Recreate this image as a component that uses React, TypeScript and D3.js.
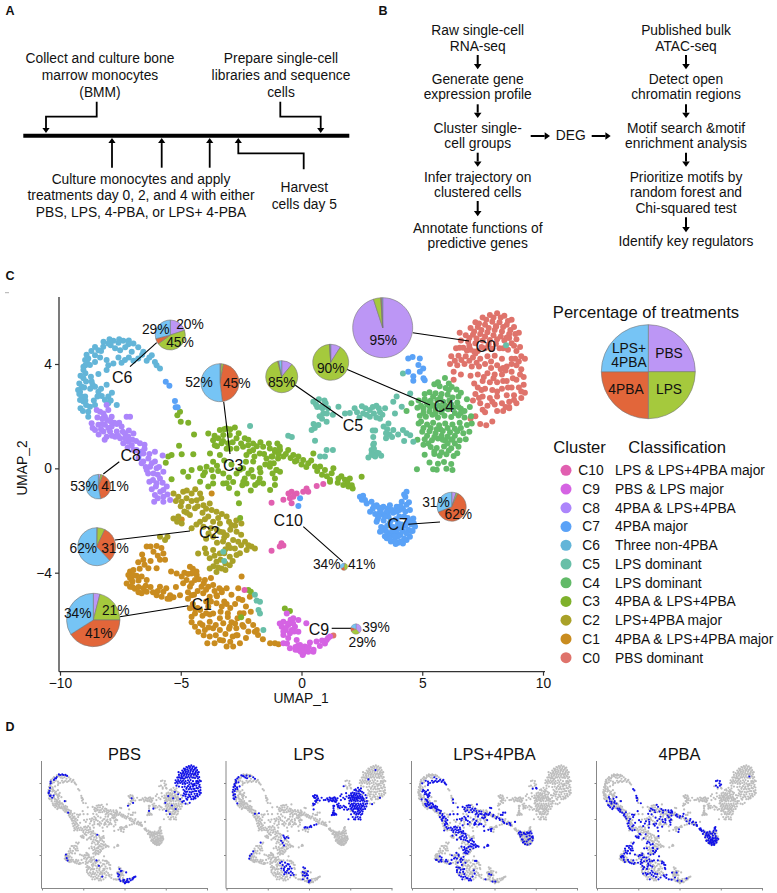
import React, { useRef, useEffect } from 'react';
import * as d3 from 'd3';

type Pt = [number, number];

const c0Pbs: Pt[] = [[7.2,5.6],[7.5,5.78],[7.8,5.88],[8.1,5.95],[8.4,5.85],[8.7,5.7],[7.0,5.38],[7.3,5.42],[7.6,5.5],[7.9,5.62],[8.2,5.6],[8.5,5.5],[8.8,5.42],[9.0,5.2],[6.8,5.1],[7.1,5.12],[7.4,5.15],[7.7,5.22],[8.0,5.3],[8.3,5.25],[8.6,5.15],[8.9,4.95],[6.6,4.9],[6.9,4.85],[7.2,4.8],[7.5,4.9],[7.8,4.92],[8.1,4.95],[8.4,4.9],[8.7,4.8],[6.4,4.6],[6.7,4.62],[7.0,4.55],[7.3,4.5],[7.6,4.6],[7.9,4.58],[8.2,4.6],[8.9,4.5],[9.1,4.3],[6.2,4.3],[6.5,4.32],[6.8,4.3],[7.1,4.25],[7.4,4.2],[7.7,4.3],[8.0,4.32],[8.3,4.2],[8.7,4.2],[9.25,4.2],[6.15,4.0],[6.45,3.95],[6.75,4.0],[7.05,3.9],[7.35,3.9],[7.6,4.0],[8.1,3.95],[8.5,3.9],[8.9,3.95],[9.1,3.8],[6.3,3.7],[7.0,3.55],[7.3,3.6],[7.7,3.65],[8.0,3.6],[8.3,3.6],[8.7,3.7],[9.2,3.5],[7.5,3.35],[7.8,3.3],[8.1,3.3],[8.5,3.35],[8.9,3.4],[9.2,3.2],[7.3,3.1],[7.6,3.05],[7.9,3.0],[8.3,3.05],[8.7,3.1],[9.0,3.1],[9.25,2.9],[7.2,2.85],[7.5,2.75],[7.8,2.7],[8.1,2.75],[8.5,2.8],[8.8,2.8],[9.1,2.7],[7.1,2.6],[7.4,2.5],[7.7,2.4],[8.0,2.45],[8.3,2.5],[8.6,2.55],[8.9,2.5],[7.5,2.25],[8.1,2.2],[8.35,2.2],[8.6,2.3],[7.2,2.0],[7.4,1.7],[7.9,1.8],[7.0,1.9],[8.45,3.75],[6.95,4.7],[7.45,4.65],[8.55,4.55],[8.85,4.2],[8.35,3.85],[7.15,3.25],[1.32,-6.41],[6.6,3.6],[7.85,4.1],[8.6,5.0],[6.55,5.2],
  [7.35,5.55],[7.65,5.7],[7.95,5.78],[8.25,5.78],[8.55,5.65],[7.15,5.25],[7.45,5.3],[7.75,5.38],[8.05,5.45],[8.35,5.42],[8.65,5.3],[8.85,5.15],[6.95,5.0],[7.25,4.98],[7.6,5.05],[7.95,5.1],[8.25,5.05],[8.5,5.02],[8.8,4.7],[6.55,4.62],[6.85,4.52],[7.15,4.48],[7.75,4.75],[8.05,4.78],[8.35,4.6],[9.05,4.65],[6.35,4.12],[6.62,4.15],[6.95,4.12],[7.25,4.05],[7.85,3.85],[8.25,3.8],[8.7,4.0],[9.0,4.1],[7.55,3.5],[7.95,3.45],[8.35,3.35],[8.75,3.45],[9.05,3.6],[7.45,3.0],[8.1,2.95],[8.55,3.1],[9.1,2.95],[7.35,2.7],[7.9,2.55],[8.45,2.35],[8.8,2.62],[7.6,2.15]];
const c0Lps: Pt[] = [[8.06,5.44],[7.2,4.4],[8.6,2.35],[6.3,3.4],[7.65,1.65]];
const c1Pbs: Pt[] = [[-7.1,-3.95],[-7.0,-4.35],[-6.9,-4.62],[-3.4,-4.6],[-3.1,-5.2],[-2.7,-6.4]];
const c1Lps: Pt[] = [[-3.5,-4.9],[-3.2,-5.1],[-2.95,-5.35],[-2.9,-4.85],[-2.6,-5.0],[-2.55,-5.55],[-2.3,-5.3],[-2.2,-5.85],[-2.45,-6.0],[-2.75,-5.95],[-3.05,-5.7],[-3.0,-6.15],[-2.2,-6.25],[-1.85,-6.2],[-3.35,-5.5],[-7.24,-4.41],[-7.17,-4.09],[-6.96,-3.9],[-6.76,-3.6],
  [-3.3,-4.75],[-3.05,-5.55],[-2.75,-5.2],[-2.4,-5.55],[-2.45,-5.05],[-2.1,-5.5],[-2.0,-6.0],[-2.65,-5.75],[-2.9,-5.9]];
const c1Combo: Pt[] = [[-6.62,-4.15],[-6.41,-4.28],[-7.1,-4.54],[-6.55,-4.6],[-6.41,-4.73],[-5.86,-4.54],[-5.72,-4.73],[-5.3,-4.94],[-5.17,-4.03],[-4.76,-4.28],[-4.62,-3.77],[-4.34,-4.09],[-4.14,-4.54],[-3.86,-4.54],[-4.07,-4.79],[-3.52,-4.86],[-4.62,-5.36],[-4.55,-5.69],[-4.2,-5.43],[-3.66,-5.56],[-3.8,-5.88],[-4.2,-5.94],[-4.27,-6.26],[-3.66,-6.13],[-3.8,-6.45],[-3.38,-6.58],[-3.1,-6.83],[-2.83,-6.83],[-2.4,-6.07],[-1.1,-6.7],[-4.45,-4.85],[-3.95,-5.1],
  [-7.0,-4.55],[-6.75,-4.75],[-6.45,-4.5],[-5.95,-4.7],[-5.45,-5.0],[-5.2,-4.55],[-4.9,-4.4],[-4.55,-4.4],[-4.35,-3.95],[-4.05,-4.4],[-3.75,-4.2],[-4.4,-5.4],[-4.1,-5.65],[-3.8,-5.6],[-4.55,-5.9],[-4.05,-6.4],[-3.55,-6.4],[-3.25,-6.6],[-2.95,-6.65],[-2.65,-6.4],[-3.9,-6.7]];
const c1Pba: Pt[] = [[-7.03,-4.28],[-6.83,-4.12],[-6.55,-3.5],[-6.34,-3.83],[-6.0,-3.83],[-5.86,-3.5],[-5.65,-3.5],[-5.72,-3.26],[-6.13,-3.2],[-6.0,-2.98],[-6.41,-3.0],[-6.62,-4.79],[-6.0,-4.86],[-5.79,-4.92],[-5.44,-4.86],[-4.96,-4.15],[-4.55,-4.03],[-4.41,-4.28],[-4.62,-4.54],[-4.0,-4.28],[-3.66,-4.47],[-3.8,-4.92],[-3.31,-4.67],[-5.03,-4.86],[-4.55,-4.86],[-4.41,-5.56],[-3.86,-5.3],[-3.52,-5.17],[-2.62,-4.6],[-2.48,-4.15],[-2.14,-4.92],[-3.38,-5.75],[-3.24,-5.94],[-4.41,-6.07],[-4.0,-6.2],[-3.38,-6.2],[-3.6,-6.7],[-2.97,-6.07],[-2.7,-6.13],[-2.55,-6.7],[-1.93,-6.26],[-1.8,-6.39],[-1.3,-6.7],[-0.95,-6.74],[-4.96,-1.96],[-3.72,-0.96],[-6.6,-3.3],[-5.4,-3.95],
  [-7.1,-4.2],[-6.95,-4.1],[-6.7,-3.85],[-6.5,-3.7],[-6.25,-3.55],[-5.95,-3.35],[-5.8,-3.05],[-6.25,-3.0],[-6.75,-4.3],[-6.75,-4.55],[-6.25,-4.55],[-6.15,-4.75],[-5.55,-5.0],[-5.6,-4.6],[-4.85,-4.0],[-4.7,-4.05],[-4.5,-3.85],[-4.25,-4.25],[-4.3,-4.7],[-4.7,-4.75],[-3.95,-4.65],[-3.6,-4.7],[-3.1,-4.6],[-4.7,-5.0],[-4.5,-5.2],[-4.3,-5.35],[-3.95,-5.55],[-3.75,-5.1],[-3.3,-5.3],[-3.15,-6.35],[-3.55,-6.0],[-3.85,-6.1],[-4.1,-6.0],[-2.85,-6.45],[-2.3,-6.5],[-1.6,-6.55]];
const c2Pbs: Pt[] = [[-3.3,-1.75]];
const c2Lps: Pt[] = [[-5.86,-2.62],[-3.38,-2.43],[-2.9,-2.17],[-3.1,-1.85],[-2.49,-2.11],[-3.03,-2.94],[-3.0,-2.05],[-2.7,-2.0],[-3.2,-2.65]];
const c2Combo: Pt[] = [[-5.3,-0.96],[-5.1,-1.09],[-4.9,-0.9],[-4.76,-1.15],[-4.96,-1.28],[-4.55,-0.96],[-4.34,-1.22],[-4.2,-0.96],[-4.06,-1.41],[-4.41,-1.53],[-4.68,-1.47],[-3.72,-1.6],[-3.86,-1.85],[-3.52,-1.66],[-4.62,-1.79],[-5.1,-1.85],[-4.55,-2.3],[-4.2,-2.05],[-4.06,-2.24],[-3.66,-2.05],[-3.38,-2.11],[-3.1,-2.56],[-2.69,-2.43],[-2.83,-2.75],[-2.62,-2.81],[-2.34,-2.81],[-2.07,-3.0],[-1.93,-3.07],[-2.27,-3.13],[-2.76,-3.07],[-4.0,-3.07],[-3.66,-3.13],[-3.38,-3.26],[-2.97,-3.39],[-3.8,-3.45],[-3.52,-3.58],[-3.31,-3.84],
  [-5.2,-1.25],[-4.75,-0.85],[-5.0,-1.45],[-4.55,-1.25],[-4.3,-1.45],[-4.15,-1.15],[-3.95,-1.55],[-3.8,-1.35],[-3.45,-1.9],[-4.0,-1.95],[-3.75,-2.3],[-3.5,-2.35],[-3.25,-2.45],[-2.95,-2.35],[-2.75,-2.2],[-2.5,-2.55],[-2.95,-3.05],[-2.5,-2.95],[-2.2,-2.95],[-2.55,-3.25],[-3.15,-3.1],[-3.6,-3.35],[-3.35,-3.5],[-3.15,-3.65],[-3.65,-3.75],[-3.45,-3.8]];
const c2Pba: Pt[] = [[-5.3,-1.92],[-4.96,-2.11],[-3.66,-2.62],[-4.28,-3.26],[-2.69,-3.32],[-3.8,-3.84],[-2.97,-3.71],[-3.52,-3.97],[-5.65,-2.75],[-5.55,-2.62],[-4.85,-1.65],[-3.95,-2.7],[-4.4,-0.8],[-4.1,-1.7],[-3.25,-2.8],
  [-4.75,-1.7],[-5.15,-2.05],[-4.35,-2.15],[-3.85,-2.5],[-3.5,-2.85],[-3.95,-3.25],[-3.2,-3.25],[-2.85,-3.55],[-3.15,-3.9]];
const c3Combo: Pt[] = [[-5.03,2.17],[-5.0,1.79],[-4.45,1.3],[-3.86,1.34],[-3.38,1.47],[-3.11,1.53],[-3.66,1.08],[-3.24,1.28],[-2.97,1.28],[-3.31,0.96],[-2.69,1.15],[-2.35,1.15],[-2.69,0.76],[-2.21,0.89],[-2.28,0.51],[-1.59,0.83],[-1.73,0.57],[-1.1,0.64],[-2.0,0.26],[-1.31,0.06],[-4.96,0.54],[-4.48,0.54],[-3.66,0.25],[-4.2,0.0],[-3.93,0.06],[-4.55,-0.06],[-3.24,-0.2],[-2.35,-0.39],[-2.28,-0.58],[-1.59,-0.58],[-3.24,-0.58],[-3.86,-0.7],[-2.41,-0.51],[-1.92,-0.64],[-1.24,0.45],[-0.89,-0.13],[-0.55,0.7],[-0.13,0.45],[0.28,0.2],[0.56,0.07],[0.97,-0.06],[1.18,-0.44],[1.8,-0.44],[1.94,-0.7],[2.49,-0.32],[-1.3,-0.83],[-5.38,0.51],[-2.2,-4.66],[-2.5,-5.71],
  [-3.6,1.25],[-3.2,1.5],[-2.95,1.5],[-3.5,0.85],[-3.1,0.75],[-2.85,1.0],[-2.5,0.95],[-2.15,0.65],[-1.85,0.85],[-1.95,0.45],[-1.55,0.55],[-1.2,0.45],[-1.5,0.15],[-1.15,0.2],[-0.95,0.55],[-3.5,0.1],[-3.2,0.3],[-4.0,-0.15],[-3.45,-0.1],[-3.0,-0.35],[-2.55,-0.05],[-2.2,-0.2],[-2.45,-0.65],[-1.8,-0.55],[-0.65,0.55],[-0.2,0.3],[0.2,0.05],[0.65,-0.1],[1.05,-0.3],[1.5,-0.55],[1.9,-0.55],[-0.75,0.45]];
const c3Pba: Pt[] = [[-5.14,2.04],[-4.69,1.75],[-2.76,1.57],[-3.45,1.15],[-3.59,0.89],[-3.04,0.96],[-2.42,0.83],[-2.0,0.7],[-1.31,0.76],[-1.45,0.38],[-0.9,0.83],[-1.73,0.0],[-0.97,0.38],[-1.04,-0.06],[-5.07,0.87],[-5.52,0.45],[-5.62,0.21],[-3.79,0.57],[-3.38,0.51],[-3.72,-0.06],[-4.9,-0.13],[-5.38,-0.42],[-4.69,-0.32],[-4.07,-0.26],[-3.66,-0.32],[-2.69,-0.2],[-2.0,-0.32],[-2.83,-0.52],[-1.73,-0.39],[-2.07,-0.06],[-2.42,0.0],[-3.66,-0.58],[-3.1,-0.57],[-2.66,-0.96],[-2.59,-1.34],[-2.54,-1.9],[-4.2,-0.51],[-1.1,0.7],[-0.89,0.7],[-1.03,-0.06],[-1.1,-0.39],[-1.3,0.2],[-0.34,0.51],[0.07,0.32],[0.49,0.57],[0.77,0.07],[1.25,-0.19],[1.32,0.0],[1.53,-0.39],[2.0,-0.39],[2.12,-0.77],[1.73,-0.64],[-0.27,0.26],[-1.1,-0.64],[1.18,-0.51],[2.08,-0.65],[-2.1,-4.73],
  [-3.25,1.05],[-2.95,0.75],[-2.6,1.35],[-2.2,1.1],[-2.0,0.95],[-1.7,1.0],[-1.35,0.95],[-1.0,0.95],[-1.2,-0.2],[-2.9,0.15],[-2.3,0.25],[-0.45,0.4],[0.0,0.15],[0.4,0.3],[0.85,-0.25],[1.65,-0.3],[-3.0,-0.75],[-2.1,-0.85],[-1.7,-0.15]];
const c3Lps: Pt[] = [[-0.69,-5.37],[-0.48,-5.47]];
const c4Pbs: Pt[] = [[5.9,2.3],[5.75,1.5],[5.5,0.55],[6.1,3.0],[6.5,2.75],[4.95,1.8],[6.2,1.1],[5.3,2.55],[6.75,2.2],[5.05,0.9]];
const c4Lps: Pt[] = [[5.94,3.46],[5.5,3.22],[5.72,3.15],[5.97,3.08],[6.22,3.12],[5.3,2.92],[5.55,2.88],[5.8,2.85],[6.05,2.82],[6.42,3.02],[6.6,2.9],[4.85,2.6],[5.1,2.65],[5.35,2.6],[5.62,2.62],[5.87,2.55],[6.12,2.6],[6.45,2.52],[6.85,2.65],[4.8,2.32],[5.05,2.28],[5.32,2.35],[5.55,2.25],[5.8,2.3],[6.07,2.27],[6.3,2.33],[6.6,2.28],[6.97,2.35],[4.9,2.02],[5.15,1.98],[5.42,2.05],[5.65,1.95],[5.92,2.02],[6.2,1.97],[6.5,2.03],[6.75,1.95],[7.02,2.0],[4.85,1.72],[5.2,1.68],[5.45,1.75],[5.7,1.65],[5.95,1.72],[6.25,1.68],[6.55,1.75],[6.85,1.66],[7.05,1.72],[5.0,1.4],[5.3,1.42],[5.55,1.35],[5.85,1.43],[6.15,1.38],[6.45,1.42],[6.7,1.35],[6.95,1.4],[4.8,1.1],[5.1,1.12],[5.4,1.08],[5.65,1.14],[5.95,1.07],[6.25,1.12],[6.55,1.08],[6.8,1.12],[5.35,0.82],[5.6,0.78],[5.9,0.84],[6.2,0.77],[6.5,0.83],[5.1,0.52],[5.72,0.48],[6.0,0.54],[6.3,0.47],[6.45,0.58],[5.3,0.22],[5.65,0.18],[5.9,0.24],[6.2,0.17],[5.6,-0.05],[6.0,-0.02],[6.25,-0.06],[4.78,-0.03],[5.45,-0.03],[4.35,2.2],[4.55,2.5],[5.85,1.1],
  [5.65,3.3],[6.1,3.25],[5.1,2.85],[5.45,2.75],[5.75,2.72],[6.25,2.72],[4.95,2.4],[5.2,2.45],[5.45,2.42],[5.7,2.4],[5.95,2.42],[6.2,2.45],[6.5,2.35],[5.05,2.12],[5.3,2.18],[5.55,2.1],[5.8,2.15],[6.35,2.12],[6.6,2.12],[5.05,1.55],[5.35,1.55],[5.6,1.5],[6.05,1.55],[6.35,1.52],[6.6,1.55],[5.2,1.25],[5.5,1.2],[5.8,1.25],[6.05,1.22],[6.35,1.25],[5.25,0.95],[5.5,0.65],[5.8,0.62],[6.1,0.68],[6.05,0.95],[6.35,0.95]];
const c5Pbs: Pt[] = [[0.87,2.3],[1.04,1.79],[0.42,1.47],[2.97,0.9],[3.5,1.15]];
const c5Lps: Pt[] = [[0.49,2.55],[0.72,2.65],[0.95,2.6],[1.53,2.36],[0.9,2.1],[0.7,1.66],[0.56,1.06],[1.1,2.3],[0.65,2.35],[0.85,1.9],[1.3,2.05],[1.8,2.1],[2.0,2.12],[2.2,2.3],[2.5,2.38],[2.83,2.24],[3.1,2.4],[3.46,2.3],[3.25,1.9],[2.83,1.98],[2.55,2.1],[3.0,2.1],[2.4,1.95],[3.25,2.15],[2.97,1.2],[3.05,1.45],[3.0,0.95],[2.97,0.5],[2.77,0.42],[3.12,0.6],[3.3,0.48],[2.9,0.7],[3.6,1.72],[3.8,1.47],[3.65,1.3],[4.2,1.47],[4.5,1.27],[4.63,1.02],[4.25,1.05],[3.87,2.1],[3.8,2.55],[3.94,2.75],[4.5,2.87],[4.15,2.36],[4.2,3.64],
  [0.6,2.45],[0.8,2.35],[0.75,2.0],[1.05,2.1],[0.5,1.7],[0.55,1.55],[1.0,2.5],[2.3,2.15],[2.65,2.3],[2.95,2.35],[2.7,2.05],[3.1,1.95],[3.2,2.3],[3.35,2.05],[2.9,0.55],[3.05,0.45],[3.2,0.58],[3.0,0.75],[2.95,1.45],[3.4,1.6],[3.55,1.5],[3.5,1.35],[3.75,1.2],[4.0,1.3],[4.35,1.35]];
const c5Combo: Pt[] = [[0.77,0.45],[1.04,0.7],[1.3,0.7],[0.97,0.45],[-0.55,1.25],[-0.4,1.2],[-2.13,1.62]];
const c5Pba: Pt[] = [[-1.93,-4.85],[-1.86,-5.07],[-1.72,-5.11],[-1.78,-5.43],[-1.72,-5.56],[-1.58,-6.2],[-3.24,-3.2],[-3.2,-3.55],[8.47,4.72]];
const c6Pbs: Pt[] = [[-8.96,4.15],[-8.55,4.34],[-8.41,4.53],[-8.21,4.66],[-7.79,4.89],[-7.38,4.89],[-6.96,4.79],[-9.03,3.45],[-9.1,3.13],[-9.17,2.94],[-9.03,2.56],[-8.76,2.36],
  [-8.95,3.95],[-8.3,4.5],[-7.95,4.95],[-7.55,4.95],[-7.15,4.9],[-9.2,2.85],[-8.95,2.6],[-8.6,2.6]];
const c6Lps: Pt[] = [[-9.03,3.89],[-8.83,4.21],[-8.0,4.79],[-7.58,4.81],[-7.17,4.76],[-6.76,4.64],[-8.86,4.02],[-9.03,3.77],[-8.92,3.33],[-9.1,2.75],[-9.17,2.62],[-8.92,2.43],[-8.96,2.75],[-8.72,3.51],[-8.55,4.08],[-7.51,4.53],[-7.72,4.6],[-8.41,3.62],[-8.69,3.33],[-6.55,4.47],
  [-9.15,3.55],[-9.2,3.25],[-9.25,3.0],[-8.9,4.35],[-8.7,4.5],[-8.55,4.65],[-8.2,4.85],[-7.9,4.72],[-9.15,2.3],[-9.05,2.2],[-9.0,3.1],[-8.95,3.65]];
const c6Combo: Pt[] = [[-8.76,3.96],[-6.2,4.34],[-6.07,4.08],[-5.86,3.83],[-6.41,4.12],[-6.76,4.21],[-6.96,4.12],[-7.31,4.15],[-7.58,4.25],[-7.79,4.02],[-8.07,4.15],[-8.34,4.25],[-7.03,4.47],[-7.3,4.64],[-8.07,3.77],[-8.55,3.13],[-8.41,2.94],[-8.27,2.77],[-8.14,2.62],[-8.0,2.75],[-8.07,3.2],[-8.83,2.17],
  [-8.65,3.2],[-8.75,3.05],[-8.45,2.75],[-8.3,3.05],[-7.85,2.9],[-7.9,2.6],[-8.0,2.5],[-7.15,4.25],[-6.6,4.35],[-6.3,4.25],[-7.45,4.05],[-8.0,3.95],[-6.0,3.95]];
const c6Pba: Pt[] = [[-7.65,2.43],[-8.55,2.43],[-8.83,1.98]];
const c7Pba: Pt[] = [[2.42,-1.09],[2.63,-1.21],[2.5,-1.2],[2.9,-1.28],[3.39,-1.47],[3.66,-1.41],[2.84,-1.66],[3.25,-1.66],[4.15,-1.28],[4.35,-0.9],[4.3,-1.1],[3.6,-1.85],[4.05,-1.85],[3.11,-2.05],[3.25,-2.43],[3.5,-2.4],[3.65,-2.1],[4.35,-2.1],[4.7,-2.23],[3.53,-2.68],[3.87,-2.75],[4.2,-2.88],[4.49,-2.62],[3.95,-2.4],[4.1,-2.55],[3.8,-2.25],[4.2,-2.4],[3.4,-2.0],[3.7,-2.55],[4.0,-2.1],[4.42,-2.35],[4.42,3.7],[4.42,4.21],[4.6,4.27],[4.9,4.21],[4.84,3.96],[5.04,3.83],[4.9,3.7],[4.63,3.53],[-0.06,-1.15],[-0.13,-1.44],[-5.62,3.32],[-5.47,3.17],[-5.24,2.58],[-5.21,2.34],[-5.13,2.34],
  [3.0,-1.45],[3.3,-1.55],[3.5,-1.7],[3.75,-1.6],[3.95,-1.65],[4.1,-1.45],[4.3,-1.65],[3.2,-1.85],[3.45,-1.85],[3.7,-2.0],[3.95,-2.25],[4.15,-2.15],[4.4,-1.9],[4.55,-2.15],[3.3,-2.4],[3.55,-2.2],[3.75,-2.4],[4.0,-2.6],[4.25,-2.7],[4.5,-2.4],[3.85,-2.6],[4.1,-2.8],[3.65,-2.7],[3.9,-2.9],[4.35,-2.5],[2.55,-1.05],[2.7,-1.35],[4.25,-1.0],[4.45,-1.3]];
const c7Combo: Pt[] = [[3.11,-1.41],[3.94,-1.47],[4.2,-1.55],[4.49,-1.6],[4.63,-1.92],[3.2,-1.5],[3.05,-1.75],[3.55,-1.55],[3.8,-1.7],[4.25,-1.85],[4.5,-2.0],[4.6,-2.4],[3.3,-2.25],[3.45,-2.6],[3.7,-2.8],[4.0,-2.85],[4.35,-2.75],[4.63,3.36],[5.05,3.45],[5.1,3.38],[3.9,-1.95],
  [3.15,-1.95],[3.4,-2.3],[3.6,-2.5],[3.9,-2.5],[4.1,-2.3],[4.3,-2.2],[4.65,-2.1],[4.05,-1.6],[3.6,-1.65],[3.3,-1.75],[2.95,-1.55],[4.35,-1.4]];
const c8Pbs: Pt[] = [[-6.83,0.7],[-7.24,1.98]];
const c8Lps: Pt[] = [[-8.69,1.73],[-6.55,0.57],[-6.07,0.64]];
const c8Combo: Pt[] = [[-8.07,2.43],[-8.34,2.17],[-8.14,1.98],[-8.41,1.67],[-8.14,1.67],[-7.86,1.6],[-8.2,1.41],[-7.65,1.41],[-7.72,1.21],[-7.45,1.6],[-7.31,1.34],[-7.17,1.21],[-6.96,1.34],[-7.03,0.89],[-6.69,0.96],[-6.34,0.38],[-6.07,0.26],[-6.27,0.06],[-6.41,-0.06],[-5.72,-0.13],[-5.86,-0.39],[-6.0,-0.57],[-6.03,-0.7],[-5.72,-1.09],[-6.1,-1.28],[-7.55,1.75],[-6.62,0.2],[-5.9,0.05],
  [-8.2,2.1],[-8.05,1.85],[-7.75,1.75],[-8.3,1.5],[-8.0,1.55],[-7.85,1.25],[-7.6,1.25],[-7.4,1.4],[-7.15,1.45],[-7.0,1.1],[-6.85,1.05],[-6.5,0.9],[-6.6,0.65],[-6.3,0.55],[-6.2,0.2],[-6.35,-0.2],[-5.95,-0.25],[-5.75,-0.55],[-5.85,-0.9],[-5.55,-1.0]];
const c8Pba: Pt[] = [[-8.0,2.24],[-8.48,2.24],[-7.86,1.98],[-8.55,1.47],[-7.93,1.41],[-8.07,1.21],[-7.51,1.15],[-7.1,1.98],[-7.38,0.96],[-7.17,1.02],[-6.55,0.26],[-5.75,0.49],[-6.0,0.0],[-6.13,-0.2],[-5.58,-0.7],[-6.3,-0.51],[-5.72,-0.83],[-6.07,-1.02],[-5.44,-1.21],[-5.72,-1.28],[-7.9,1.8],[-8.25,1.9],[-6.7,0.55],[-6.5,0.75],
  [-8.45,1.95],[-8.25,1.7],[-8.65,1.55],[-8.4,1.3],[-8.15,1.1],[-7.65,1.7],[-7.3,1.15],[-7.2,0.8],[-6.95,0.7],[-6.75,0.4],[-6.45,0.05],[-6.15,-0.45],[-6.2,-0.8],[-5.95,-1.15]];
const c9Pbs: Pt[] = [[-0.61,-5.56],[-0.34,-5.75],[0.2,-5.94],[-0.82,-6.07],[-0.75,-6.39],[-0.6,-6.71],[-0.48,-6.9],[-0.06,-6.77],[0.07,-7.09],[0.28,-7.03],[0.49,-7.03],[0.35,-6.68],[0.62,-6.64],[0.76,-6.81],[0.97,-6.71],[1.04,-6.58],[1.18,-6.45],[-0.13,-6.96],
  [-0.45,-5.8],[-0.65,-6.2],[-0.15,-6.8],[0.15,-7.0],[0.3,-6.85],[0.05,-7.15],[0.5,-6.95],[1.1,-6.5]];
const c9Lps: Pt[] = [[-0.75,-5.88],[-0.13,-5.81],[-0.55,-6.0],[-0.27,-6.07],[-0.13,-6.26],[-0.48,-6.32],[-0.2,-6.58],[0.14,-6.83],[-0.75,-6.7],[-0.03,-7.03],[-0.55,-5.95],[-0.3,-6.25],[0.0,-6.9],[-0.75,-6.25]];
const c9Combo: Pt[] = [[-0.65,-6.12],[-0.4,-6.2],[0.1,-6.95],[-0.25,-6.95]];
const c9Pba: Pt[] = [[-0.9,-5.95],[-0.35,-5.95],[-0.55,-6.5],[-0.25,-6.85],[0.25,-6.9],[0.85,-6.6]];
const c10Lps: Pt[] = [[-0.54,-0.96],[-0.41,-0.9],[-0.2,-0.96],[0.07,-0.9],[0.21,-0.77],[0.28,-0.9],[0.63,-0.68],[0.9,-0.6]];
const c10Combo: Pt[] = [[-1.24,-1.32],[-0.75,-1.2],[-0.48,-1.15],[-0.34,-1.09],[-0.41,-1.34],[-1.24,-3.16],[-0.83,-2.87],[-0.75,-2.96],[-0.9,-3.0],[-2.36,-4.66]];

const clusterNames = ['C0', 'C1', 'C2', 'C3', 'C4', 'C5', 'C6', 'C7', 'C8', 'C9', 'C10'];
const pbsCells = [c0Pbs, c1Pbs, c2Pbs, [], c4Pbs, c5Pbs, c6Pbs, [], c8Pbs, c9Pbs, []];
const lpsCells = [c0Lps, c1Lps, c2Lps, c3Lps, c4Lps, c5Lps, c6Lps, [], c8Lps, c9Lps, c10Lps];
const comboCells = [[], c1Combo, c2Combo, c3Combo, [], c5Combo, c6Combo, c7Combo, c8Combo, c9Combo, c10Combo];
const pbaCells = [[], c1Pba, c2Pba, c3Pba, [], c5Pba, c6Pba, c7Pba, c8Pba, c9Pba, []];

const clusterColors = ['#df736b', '#c98c1f', '#a9a128', '#7fb12b', '#62ba68', '#68bfa8', '#63b5d8', '#5aa2f7', '#ac85fb', '#d563e3', '#e15fb0'];

const legendClusters = ['C10', 'C9', 'C8', 'C7', 'C6', 'C5', 'C4', 'C3', 'C2', 'C1', 'C0'];
const legendClasses = ['LPS & LPS+4PBA major', 'PBS & LPS major', '4PBA & LPS+4PBA', '4PBA major', 'Three non-4PBA', 'LPS dominant', 'LPS dominant', '4PBA & LPS+4PBA', 'LPS+4PBA major', '4PBA & LPS+4PBA major', 'PBS dominant'];

// order: PBS, LPS, 4PBA, LPS+4PBA
const pieColors = ['#bc96f5', '#a5c93d', '#e2663a', '#76c4f5'];
const shareC0 = [95, 4, 0.5, 0.5];
const shareC1 = [4, 21, 41, 34];
const shareC2 = [0.5, 6.5, 31, 62];
const shareC3 = [1, 2, 45, 52];
const shareC4 = [9, 90, 0.3, 0.7];
const shareC5 = [11, 85, 1, 3];
const shareC6 = [20, 45, 6, 29];
const shareC7 = [5, 2, 62, 31];
const shareC8 = [3, 3, 41, 53];
const shareC9 = [39, 29, 12, 20];
const shareC10 = [5, 41, 20, 34];
const shareLegend = [25, 25, 25, 25];

// annotation layout: pie centre/radius, leader line, cluster label
const pies = [
  { name: 'C0', share: shareC0, cx: 382.7, cy: 327.7, r: 30, line: [412.7, 332.7, 469, 341], lx: 485.7, ly: 346.7 },
  { name: 'C1', share: shareC1, cx: 93.3, cy: 620, r: 26.7, line: [120, 616.7, 188.3, 605.7], lx: 201.7, ly: 604 },
  { name: 'C2', share: shareC2, cx: 96.7, cy: 546.7, r: 19, line: [115, 540, 190, 531], lx: 209.3, ly: 532.7 },
  { name: 'C3', share: shareC3, cx: 220, cy: 382.7, r: 19, line: [223.7, 401.7, 230, 454], lx: 233.3, ly: 465 },
  { name: 'C4', share: shareC4, cx: 330.7, cy: 362.3, r: 18, line: [346.7, 369.3, 430, 405], lx: 444, ly: 406 },
  { name: 'C5', share: shareC5, cx: 281.7, cy: 376.7, r: 16, line: [295, 385, 342.7, 418.3], lx: 353, ly: 425 },
  { name: 'C6', share: shareC6, cx: 170.3, cy: 335, r: 15, line: [156.7, 342.7, 130, 366.7], lx: 122.3, ly: 377 },
  { name: 'C7', share: shareC7, cx: 451.7, cy: 506.7, r: 14.5, line: [408.3, 524.3, 440, 522], lx: 397.7, ly: 524 },
  { name: 'C8', share: shareC8, cx: 98.3, cy: 486.7, r: 12.3, line: [103.3, 474, 119.3, 461.7], lx: 130.7, ly: 455.7 },
  { name: 'C9', share: shareC9, cx: 356, cy: 629, r: 5.3, line: [331.7, 628.3, 351, 628.3], lx: 319, ly: 629 },
  { name: 'C10', share: shareC10, cx: 344, cy: 566.7, r: 3.7, line: [303.3, 526.7, 342.7, 561.7], lx: 288.3, ly: 520.7 },
];

const pctLabels: [string, number, number][] = [
  ['95%', 383.3, 340], ['90%', 330.7, 368.3], ['85%', 281.7, 381.7],
  ['29%', 155.7, 329], ['20%', 190, 324], ['45%', 180, 341.7],
  ['52%', 199, 382.3], ['45%', 236.7, 382.7],
  ['53%', 84, 486], ['41%', 115, 486],
  ['62%', 83.3, 548.3], ['31%', 115, 548.3],
  ['34%', 77.7, 612.7], ['21%', 115.7, 610], ['41%', 98.7, 632.7],
  ['31%', 436, 501.7], ['62%', 458.3, 514.3],
  ['34%', 326.7, 564.3], ['41%', 361.7, 564.3],
  ['39%', 376, 626.7], ['29%', 362.3, 641.7],
];

const panelATexts: [string, number, number][] = [
  ['Collect and culture bone', 100, 57.7], ['marrow monocytes', 100, 75], ['(BMM)', 100, 92],
  ['Prepare single-cell', 281, 57.7], ['libraries and sequence', 281, 75], ['cells', 281, 92],
  ['Culture monocytes and apply', 141, 178.7], ['treatments day 0, 2, and 4 with either', 141, 195], ['PBS, LPS, 4-PBA, or LPS+ 4-PBA', 141, 212],
  ['Harvest', 304.3, 187], ['cells day 5', 304.3, 203.7],
];

const panelBTexts: [string, number, number][] = [
  ['Raw single-cell', 477.7, 30], ['RNA-seq', 477.7, 45.7],
  ['Generate gene', 477.7, 79], ['expression profile', 477.7, 94.3],
  ['Cluster single-', 477.7, 127.7], ['cell groups', 477.7, 143.3],
  ['Infer trajectory on', 477.7, 176.7], ['clustered cells', 477.7, 192.3],
  ['Annotate functions of', 477.7, 227.7], ['predictive genes', 477.7, 243.3],
  ['DEG', 570.7, 135],
  ['Published bulk', 686, 30], ['ATAC-seq', 686, 45.7],
  ['Detect open', 686, 79], ['chromatin regions', 686, 94.3],
  ['Motif search &motif', 686, 127.7], ['enrichment analysis', 686, 143.3],
  ['Prioritize motifs by', 686, 177], ['random forest and', 686, 192.3], ['Chi-squared test', 686, 208],
  ['Identify key regulators', 686, 241.3],
];

const panelAArrows: number[][][] = [
  [[96.7, 101.7], [96.7, 116.7], [46, 116.7], [46, 133]],
  [[280.3, 101.7], [280.3, 116.7], [320.7, 116.7], [320.7, 133]],
  [[112, 167.7], [112, 138]],
  [[161.7, 167.7], [161.7, 138]],
  [[209.7, 167.7], [209.7, 138]],
  [[303.7, 169.3], [303.7, 153.3], [238.3, 153.3], [238.3, 138]],
];

const panelBArrows: number[][][] = [
  [[477.7, 55], [477.7, 69.3]], [[477.7, 104.3], [477.7, 118]], [[477.7, 152.7], [477.7, 166.7]], [[477.7, 201], [477.7, 216.3]],
  [[686, 55], [686, 69.3]], [[686, 104.3], [686, 118]], [[686, 152.7], [686, 166.7]], [[686, 217.3], [686, 232.3]],
  [[530.7, 136], [550, 136]], [[591.7, 136], [610.7, 136]],
];

const panelLetters: [string, number, number][] = [['A', 10, 10], ['B', 383, 10], ['C', 10, 275], ['D', 10, 726]];

const smallPanels: { title: string; cells: Pt[][]; left: number }[] = [
  { title: 'PBS', cells: pbsCells, left: 42 },
  { title: 'LPS', cells: lpsCells, left: 226.5 },
  { title: 'LPS+4PBA', cells: comboCells, left: 412 },
  { title: '4PBA', cells: pbaCells, left: 597 },
];

const FONT = '"Liberation Sans", Arial, sans-serif';

const App = () => {
  const svgRef = useRef<SVGSVGElement>(null);

  useEffect(() => {
    const svg = d3.select(svgRef.current);
    svg.selectAll('*').remove();

    const label = (s: string, x: number, y: number, size = 13.8, anchor = 'middle', weight = 'normal') =>
      svg.append('text')
        .attr('x', x).attr('y', y)
        .attr('dy', '0.36em')
        .attr('text-anchor', anchor)
        .attr('font-size', size)
        .attr('font-weight', weight)
        .attr('font-family', FONT)
        .attr('fill', '#111')
        .text(s);

    const arrow = (pts: number[][], weight = 1.8, head = 3.6) => {
      const n = pts.length;
      const [x0, y0] = pts[n - 2];
      const [x1, y1] = pts[n - 1];
      const a = Math.atan2(y1 - y0, x1 - x0);
      const tail = [x1 - Math.cos(a) * head * 1.4, y1 - Math.sin(a) * head * 1.4];
      svg.append('path')
        .attr('d', d3.line()([...pts.slice(0, n - 1), tail]))
        .attr('fill', 'none').attr('stroke', '#000').attr('stroke-width', weight);
      svg.append('path')
        .attr('d', d3.line()([
          [x1, y1],
          [tail[0] - Math.sin(a) * head, tail[1] + Math.cos(a) * head],
          [tail[0] + Math.sin(a) * head, tail[1] - Math.cos(a) * head],
        ]) + 'Z')
        .attr('fill', '#000');
    };

    panelLetters.forEach(([s, x, y]) => label(s, x, y, 12.5, 'middle', 'bold'));

    // A timeline
    svg.append('line').attr('x1', 23.3).attr('x2', 349.3).attr('y1', 135.7).attr('y2', 135.7)
      .attr('stroke', '#000').attr('stroke-width', 4);
    panelATexts.forEach(([s, x, y]) => label(s, x, y));
    panelAArrows.forEach(p => arrow(p));

    // B flow
    panelBTexts.forEach(([s, x, y]) => label(s, x, y));
    panelBArrows.forEach(p => arrow(p, 2, 3.8));

    // C umap
    const x = d3.scaleLinear().domain([-10, 10]).range([60, 543]);
    const y = d3.scaleLinear().domain([-4, 4]).range([572.7, 364]);

    clusterNames.forEach((name, i) => {
      const all = [pbsCells[i], lpsCells[i], comboCells[i], pbaCells[i]].flat();
      svg.append('g').selectAll('circle').data(all).enter().append('circle')
        .attr('cx', d => x(d[0])).attr('cy', d => y(d[1])).attr('r', 3)
        .attr('fill', clusterColors[i]);
    });

    const spine = (x1: number, y1: number, x2: number, y2: number, color = '#333', w = 1.3) =>
      svg.append('line').attr('x1', x1).attr('y1', y1).attr('x2', x2).attr('y2', y2)
        .attr('stroke', color).attr('stroke-width', w);

    spine(59, 297, 59, 671.7);
    spine(59, 671.7, 545, 671.7);
    spine(5, 292.7, 9, 292.7, '#999', 0.8);

    const xAxis = svg.append('g').attr('transform', 'translate(0,671.7)')
      .call(d3.axisBottom(x).tickValues([-10, -5, 0, 5, 10]).tickSizeInner(4).tickSizeOuter(0).tickPadding(3));
    const yAxis = svg.append('g').attr('transform', 'translate(59,0)')
      .call(d3.axisLeft(y).tickValues([-4, 0, 4]).tickSizeInner(4).tickSizeOuter(0).tickPadding(3));
    [xAxis, yAxis].forEach(a => {
      a.select('.domain').remove();
      a.selectAll('line').attr('stroke', '#333').attr('stroke-width', 1.2);
      a.selectAll('text').attr('font-size', 13.8).attr('font-family', FONT).attr('fill', '#111');
    });
    label('UMAP_1', 301, 698);
    label('UMAP_2', 0, 0).attr('transform', 'translate(22,468) rotate(-90)');

    const pie = d3.pie<number>().sort(null);
    const drawPie = (share: number[], cx: number, cy: number, r: number) => {
      const arc = d3.arc<d3.PieArcDatum<number>>().innerRadius(0).outerRadius(r);
      svg.append('g').attr('transform', `translate(${cx},${cy})`)
        .selectAll('path').data(pie(share)).enter().append('path')
        .attr('d', arc)
        .attr('fill', (_, i) => pieColors[i])
        .attr('stroke', '#777')
        .attr('stroke-width', r < 8 ? 0.3 : 0.6);
    };

    pies.forEach(p => {
      spine(p.line[0], p.line[1], p.line[2], p.line[3], '#000', 1.1);
      drawPie(p.share, p.cx, p.cy, p.r);
      label(p.name, p.lx, p.ly, 16);
    });
    pctLabels.forEach(([s, px, py]) => label(s, px, py));

    // legend
    label('Percentage of treatments', 646, 311.7, 16.6);
    drawPie(shareLegend, 648.3, 371.7, 47);
    label('PBS', 669, 353.3);
    label('LPS', 669, 389);
    label('4PBA', 626, 389);
    label('LPS+', 629, 347.7);
    label('4PBA', 629, 361.7);
    label('Cluster', 553.3, 447.3, 16.6, 'start');
    label('Classification', 628.3, 447.3, 16.6, 'start');

    const rowY = d3.scalePoint().domain(legendClusters).range([470.3, 657.7]);
    legendClusters.forEach((c, i) => {
      svg.append('circle').attr('cx', 566).attr('cy', rowY(c)).attr('r', 5.5)
        .attr('fill', clusterColors[clusterNames.indexOf(c)]);
      label(c, 591, rowY(c));
      label(legendClasses[i], 615, rowY(c), 13.8, 'start');
    });

    // D small multiples
    smallPanels.forEach(panel => {
      const sx = d3.scaleLinear().domain([-10, 10]).range([panel.left, panel.left + 165]);
      const sy = d3.scaleLinear().domain([-4, 4]).range([855, 783]);
      const g = svg.append('g');
      const grey = clusterNames.flatMap((_, i) =>
        [pbsCells[i], lpsCells[i], comboCells[i], pbaCells[i]].filter(c => c !== panel.cells[i]).flat());
      const blue = panel.cells.flat();

      g.selectAll('.grey').data(grey).enter().append('circle')
        .attr('class', 'grey')
        .attr('cx', d => sx(d[0])).attr('cy', d => sy(d[1])).attr('r', 1.1).attr('fill', '#bdbdbd');
      g.selectAll('.blue').data(blue).enter().append('circle')
        .attr('class', 'blue')
        .attr('cx', d => sx(d[0])).attr('cy', d => sy(d[1])).attr('r', 1.1).attr('fill', '#1212e6');

      spine(panel.left - 0.5, 761, panel.left - 0.5, 888.5, '#888', 1);
      spine(panel.left - 0.5, 888.5, panel.left + 166, 888.5, '#888', 1);
      const bx = g.append('g').attr('transform', 'translate(0,888.5)')
        .call(d3.axisBottom(sx).tickValues([-10, -5, 0, 5, 10]).tickSize(2).tickFormat(() => ''));
      const by = g.append('g').attr('transform', `translate(${panel.left - 0.5},0)`)
        .call(d3.axisLeft(sy).tickValues([-4, 0, 4]).tickSize(2).tickFormat(() => ''));
      [bx, by].forEach(a => {
        a.select('.domain').remove();
        a.selectAll('line').attr('stroke', '#888');
      });

      label(panel.title, panel.left + 82.5, 753.7, 16.4);
    });
  }, []);

  return (
    <svg
      ref={svgRef}
      width={777}
      height={893}
      style={{ position: 'absolute', left: 0, top: 0, background: '#fff' }}
    />
  );
};

export default App;
